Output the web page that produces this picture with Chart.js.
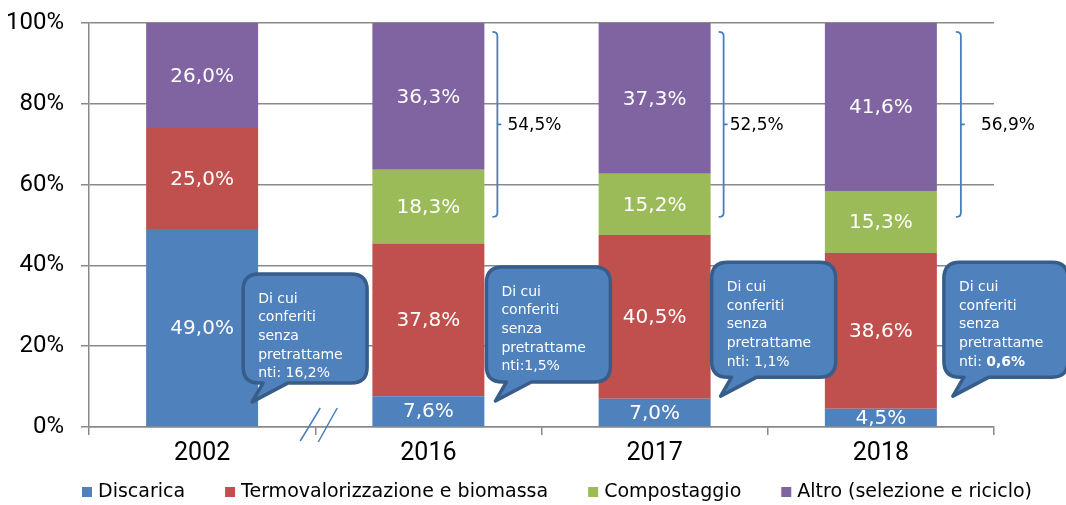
<!DOCTYPE html>
<html>
<head>
<meta charset="utf-8">
<script src="https://cdn.jsdelivr.net/npm/chart.js@4"></script>
<style>
  body { margin: 0; background: #fff; }
  canvas { display: block; }
</style>
</head>
<body>
<canvas id="rifiutiChart" width="1066" height="505"></canvas>
<script>
// dati (percentuali)
var anni = ["2002", "2016", "2017", "2018"];
var discarica = [49.0, 7.6, 7.0, 4.5];
var termovalorizzazione = [25.0, 37.8, 40.5, 38.6];
var compostaggio = [0, 18.3, 15.2, 15.3];
var altro = [26.0, 36.3, 37.3, 41.6];
var yTicks = [0, 20, 40, 60, 80, 100];

// fumetti "di cui conferiti senza pretrattamenti"
var senzaPretrattamento = ["16,2%", "1,5%", "1,1%", "0,6%"];
var senzaSep = ["nti: ", "nti:", "nti: ", "nti: "];
// parentesi (compostaggio + altro)
var parentesiAnni = [1, 2, 3];
var parentesiTesto = ["54,5%", "52,5%", "56,9%"];

var BLU = "#4F81BD", ROSSO = "#C0504D", VERDE = "#9BBB59", VIOLA = "#8064A2";
var GRIGIO = "#898989";
var NARROW = 'Roboto, "DejaVu Sans Condensed", sans-serif';
var SANS = '"DejaVu Sans", Verdana, sans-serif';

// annotazioni: posizione in px rispetto al centro della categoria
var fumettoShift = [41, 58, 57, 63];
var fumettoTop = [37.9, 39.6, 40.8, 40.8];
var parentesiShift = [64, 64, 75];
var parentesiTxtShift = [15, 11, 25];

var etichette = {
	id: "etichette",
	afterDatasetsDraw: function(chart) {
		var ctx = chart.ctx, area = chart.chartArea;
		ctx.save();
		ctx.beginPath();
		ctx.rect(area.left, area.top, area.right - area.left, area.bottom - area.top);
		ctx.clip();
		ctx.font = "20px " + SANS;
		ctx.fillStyle = "#fff";
		ctx.textAlign = "center";
		ctx.textBaseline = "middle";
		chart.data.datasets.forEach(function(ds, di) {
			var meta = chart.getDatasetMeta(di);
			meta.data.forEach(function(bar, i) {
				var v = ds.data[i];
				if (!v) return;
				var txt = v.toFixed(1).replace(".", ",") + "%";
				ctx.fillText(txt, bar.x, (bar.y + bar.base) / 2 + 1);
			});
		});
		ctx.restore();
	}
};

var annotazioni = {
	id: "annotazioni",
	afterDraw: function(chart) {
		var ctx = chart.ctx;
		var xs = chart.scales.x, ys = chart.scales.y;
		ctx.save();

		// segno di interruzione asse
		var bx = (xs.getPixelForValue(0) + xs.getPixelForValue(1)) / 2;
		var by = ys.getPixelForValue(0);
		ctx.strokeStyle = "#4A7EBB";
		ctx.lineWidth = 1.5;
		ctx.beginPath();
		ctx.moveTo(bx - 15, by + 14); ctx.lineTo(bx + 5, by - 19);
		ctx.moveTo(bx + 3, by + 15); ctx.lineTo(bx + 22, by - 19);
		ctx.stroke();

		// parentesi
		var yTop = ys.getPixelForValue(97.8), yBot = ys.getPixelForValue(52);
		var yMid = (yTop + yBot) / 2;
		parentesiAnni.forEach(function(idx, k) {
			var x = xs.getPixelForValue(idx) + parentesiShift[k];
			ctx.strokeStyle = "#4A7EBB";
			ctx.lineWidth = 1.8;
			ctx.beginPath();
			ctx.moveTo(x, yTop);
			ctx.quadraticCurveTo(x + 5, yTop, x + 5, yTop + 4);
			ctx.lineTo(x + 5, yBot - 4);
			ctx.quadraticCurveTo(x + 5, yBot, x, yBot);
			ctx.moveTo(x + 5, yMid);
			ctx.lineTo(x + 9, yMid);
			ctx.stroke();
			ctx.fillStyle = "#000";
			ctx.font = "17px " + SANS;
			ctx.textAlign = "left";
			ctx.textBaseline = "middle";
			ctx.fillText(parentesiTesto[k], x + parentesiTxtShift[k], yMid + 1);
		});

		// fumetti
		senzaPretrattamento.forEach(function(val, i) {
			var x0 = xs.getPixelForValue(i) + fumettoShift[i];
			var y0 = ys.getPixelForValue(fumettoTop[i]);
			var w = 124, h = i === 0 ? 109 : 115, r = 16;
			ctx.beginPath();
			ctx.moveTo(x0 + r, y0);
			ctx.lineTo(x0 + w - r, y0);
			ctx.quadraticCurveTo(x0 + w, y0, x0 + w, y0 + r);
			ctx.lineTo(x0 + w, y0 + h - r);
			ctx.quadraticCurveTo(x0 + w, y0 + h, x0 + w - r, y0 + h);
			ctx.lineTo(x0 + 45, y0 + h);
			ctx.lineTo(x0 + 9, y0 + h + 19);
			ctx.lineTo(x0 + 20, y0 + h);
			ctx.lineTo(x0 + r, y0 + h);
			ctx.quadraticCurveTo(x0, y0 + h, x0, y0 + h - r);
			ctx.lineTo(x0, y0 + r);
			ctx.quadraticCurveTo(x0, y0, x0 + r, y0);
			ctx.closePath();
			ctx.fillStyle = BLU;
			ctx.fill();
			ctx.strokeStyle = "#385D8A";
			ctx.lineWidth = 3.5;
			ctx.lineJoin = "round";
			ctx.stroke();

			ctx.fillStyle = "#fff";
			ctx.textAlign = "left";
			ctx.textBaseline = "middle";
			ctx.font = "14px " + SANS;
			var righe = ["Di cui", "conferiti", "senza", "pretrattame"];
			righe.forEach(function(t, j) {
				ctx.fillText(t, x0 + 15, y0 + 25 + j * 18.7);
			});
			var ly = y0 + 25 + 4 * 18.7;
			ctx.fillText(senzaSep[i], x0 + 15, ly);
			var sw = ctx.measureText(senzaSep[i]).width;
			if (i === 3) ctx.font = "bold 14px " + SANS;
			ctx.fillText(val, x0 + 15 + sw, ly);
		});

		// legenda
		ctx.font = "19px " + SANS;
		ctx.textAlign = "left";
		ctx.textBaseline = "middle";
		var lx = 82, ly2 = 492;
		chart.data.datasets.forEach(function(ds) {
			ctx.fillStyle = ds.backgroundColor;
			ctx.fillRect(lx, ly2 - 5, 10, 10);
			ctx.fillStyle = "#000";
			ctx.fillText(ds.label, lx + 16, ly2);
			lx += 16 + ctx.measureText(ds.label).width + 40;
		});
		ctx.restore();
	}
};

var chart = new Chart("rifiutiChart", {
	type: "bar",
	data: {
		labels: anni,
		datasets: [
			{label: "Discarica", data: discarica, backgroundColor: BLU},
			{label: "Termovalorizzazione e biomassa", data: termovalorizzazione, backgroundColor: ROSSO},
			{label: "Compostaggio", data: compostaggio, backgroundColor: VERDE},
			{label: "Altro (selezione e riciclo)", data: altro, backgroundColor: VIOLA}
		]
	},
	options: {
		responsive: false,
		animation: false,
		layout: {padding: {top: 23, right: 72, bottom: 30, left: 0}},
		datasets: {bar: {categoryPercentage: 1, barPercentage: 0.495, borderWidth: 0}},
		plugins: {legend: {display: false}, tooltip: {enabled: false}},
		scales: {
			x: {
				stacked: true,
				offset: true,
				grid: {offset: true, drawOnChartArea: false, tickLength: 8, color: GRIGIO, lineWidth: 1.5},
				border: {color: GRIGIO, width: 1.5},
				ticks: {color: "#000", padding: 4, font: {family: NARROW, size: 25}},
				afterFit: function(s) { s.height = 48; }
			},
			y: {
				stacked: true,
				min: 0,
				max: 100,
				afterBuildTicks: function(s) { s.ticks = yTicks.map(function(v) { return {value: v}; }); },
				grid: {color: GRIGIO, lineWidth: 1.5, tickLength: 8},
				border: {color: GRIGIO, width: 1.5},
				ticks: {color: "#000", padding: 17, font: {family: NARROW, size: 24},
					callback: function(v) { return v + "%"; }},
				afterFit: function(s) { s.width = 89; s.paddingTop = 0; s.paddingBottom = 0; }
			}
		}
	},
	plugins: [etichette, annotazioni]
});
</script>
</body>
</html>
